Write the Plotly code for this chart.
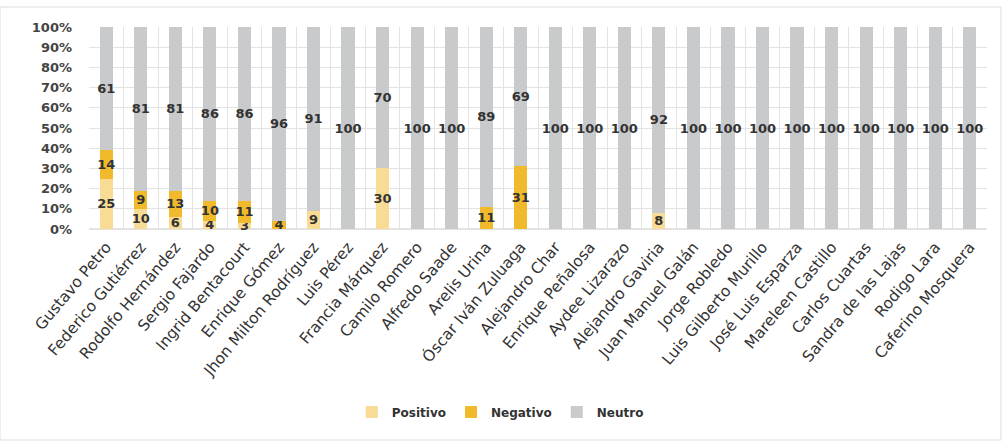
import plotly.graph_objects as go

candidatos = ["Gustavo Petro", "Federico Gutiérrez", "Rodolfo Hernández", "Sergio Fajardo",
              "Ingrid Bentacourt", "Enrique Gómez", "Jhon Milton Rodríguez", "Luis Pérez",
              "Francia Márquez", "Camilo Romero", "Alfredo Saade", "Arelis Urina",
              "Óscar Iván Zuluaga", "Alejandro Char", "Enrique Peñalosa", "Aydee Lizarazo",
              "Alejandro Gaviria", "Juan Manuel Galán", "Jorge Robledo", "Luis Gilberto Murillo",
              "José Luis Esparza", "Mareleen Castillo", "Carlos Cuartas", "Sandra de las Lajas",
              "Rodigo Lara", "Caferino Mosquera"]
positivo = [25, 10, 6, 4, 3, 0, 9, 0, 30, 0, 0, 0, 0, 0, 0, 0, 8, 0, 0, 0, 0, 0, 0, 0, 0, 0]
negativo = [14, 9, 13, 10, 11, 4, 0, 0, 0, 0, 0, 11, 31, 0, 0, 0, 0, 0, 0, 0, 0, 0, 0, 0, 0, 0]
neutro = [61, 81, 81, 86, 86, 96, 91, 100, 70, 100, 100, 89, 69, 100, 100, 100, 92, 100, 100,
          100, 100, 100, 100, 100, 100, 100]

series = [("Positivo", positivo, "#F8DC96"),
          ("Negativo", negativo, "#F0BA2C"),
          ("Neutro", neutro, "#C9CACC")]

FONT = "DejaVu Sans"
fig = go.Figure()
for name, vals, color in series:
    fig.add_trace(go.Bar(
        name=name, x=candidatos, y=vals, marker=dict(color=color, line=dict(width=0)),
        text=[str(v) if v > 0 else "" for v in vals],
        textposition="inside", insidetextanchor="middle", constraintext="none",
        textangle=0,
        textfont=dict(family=FONT, size=13, color="#333333", weight="bold"),
        cliponaxis=False,
    ))

fig.update_layout(
    width=1003, height=442,
    margin=dict(l=89, r=16, t=27, b=213),
    barmode="stack", bargap=0.62,
    plot_bgcolor="white", paper_bgcolor="white",
    font=dict(family=FONT, color="#333333"),
    legend=dict(orientation="h", x=0.458, xanchor="center", yref="container", y=0.068,
                yanchor="middle", traceorder="normal",
                font=dict(family=FONT, size=12, color="#333333", weight="bold")),
    xaxis=dict(tickangle=-50, tickson="boundaries", ticks="", showgrid=True,
               gridcolor="#E3E3E3", gridwidth=1, showline=False, ticklabelstandoff=5,
               tickfont=dict(family=FONT, size=15.5, color="#333333")),
    yaxis=dict(range=[0, 100], dtick=10, ticksuffix="%", showgrid=True,
               gridcolor="#E3E3E3", gridwidth=1, zeroline=True, zerolinecolor="#E3E3E3",
               ticklabelstandoff=16,
               tickfont=dict(family=FONT, size=13, color="#444444", weight="bold")),
    shapes=[dict(type="rect", xref="paper", yref="paper", x0=-89/898, x1=1 + 14/898,
                 y0=-211/202, y1=1 + 20/202, line=dict(color="#DDDDDD", width=1),
                 layer="below")],
)

fig.write_html("out.html")
